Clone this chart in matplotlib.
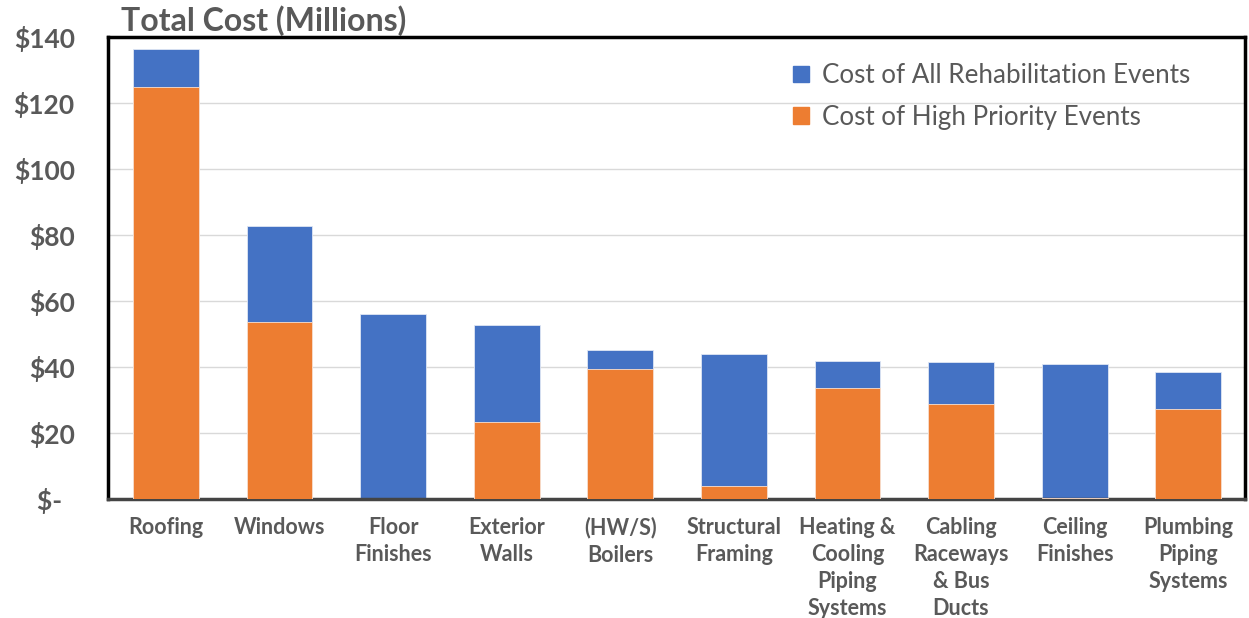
import matplotlib.pyplot as plt
from matplotlib.patches import Patch

categories = ['Roofing', 'Windows', 'Floor\nFinishes', 'Exterior\nWalls', '(HW/S)\nBoilers',
              'Structural\nFraming', 'Heating &\nCooling\nPiping\nSystems',
              'Cabling\nRaceways\n& Bus\nDucts', 'Ceiling\nFinishes', 'Plumbing\nPiping\nSystems']
all_events = [136.3, 82.6, 56.1, 52.8, 45.2, 43.8, 41.8, 41.5, 40.8, 38.5]
high_priority = [124.8, 53.5, 0.0, 23.4, 39.5, 4.0, 33.5, 28.8, 0.4, 27.2]
yticks = [0, 20, 40, 60, 80, 100, 120, 140]
ytick_labels = ['$-  ', '$20', '$40', '$60', '$80', '$100', '$120', '$140']

blue = '#4472C4'
orange = '#ED7D31'
gray = '#595959'
plt.rcParams['font.family'] = ['Lato', 'DejaVu Sans']

fig = plt.figure(figsize=(12.49, 6.18), dpi=100)
ax = fig.add_axes([0.0865, 0.1926, 0.9103, 0.7474])

x = range(len(categories))
ax.bar(x, all_events, width=0.58, color=blue, edgecolor='#dfe6f4', linewidth=0.6, zorder=2)
ax.bar(x, high_priority, width=0.58, color=orange, edgecolor='#fbe1d0', linewidth=0.6, zorder=3)

ax.set_xlim(-0.51, 9.5)
ax.set_ylim(0, 140)
ax.set_yticks(yticks)
ax.set_yticklabels(ytick_labels, fontsize=19, fontweight='bold', color=gray)
ax.set_xticks(list(x))
ax.set_xticklabels(categories, fontsize=15.5, fontweight='bold', color=gray, linespacing=1.36,
                   va='top')
ax.tick_params(axis='both', length=0)
ax.tick_params(axis='y', pad=24)
ax.tick_params(axis='x', pad=13)
ax.grid(axis='y', color='#d9d9d9', linewidth=1, zorder=0)
ax.set_axisbelow(True)

for side in ['left', 'top', 'right']:
    ax.spines[side].set_color('black')
    ax.spines[side].set_linewidth(2.5)
ax.spines['bottom'].set_color('#444444')
ax.spines['bottom'].set_linewidth(2.5)

fig.text(0.097, 0.942, 'Total Cost (Millions)', fontsize=23, fontweight='bold', color=gray,
         ha='left', va='bottom')

handles = [Patch(color=blue, label='Cost of All Rehabilitation Events'),
           Patch(color=orange, label='Cost of High Priority Events')]
leg = ax.legend(handles=handles, loc='upper left', bbox_to_anchor=(0.591, 0.972), frameon=False,
                borderpad=0, fontsize=18.7, handlelength=0.6, handleheight=0.6, handletextpad=0.5,
                labelspacing=0.65, labelcolor=gray)

fig.savefig('out.png', dpi=100)
